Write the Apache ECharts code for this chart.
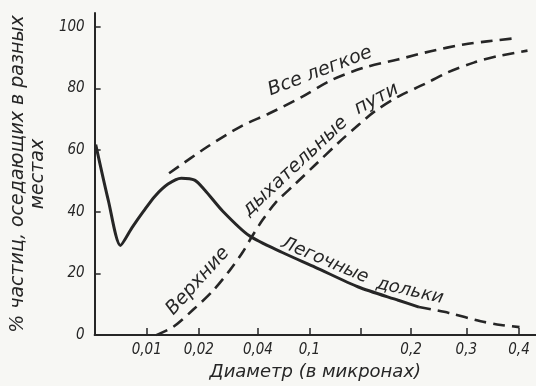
<!DOCTYPE html>
<html>
<head>
<meta charset="utf-8">
<script src="https://cdn.jsdelivr.net/npm/echarts@6/dist/echarts.min.js"></script>
<style>
html,body{margin:0;padding:0;background:#f7f7f4;}
#c{width:536px;height:386px;}
</style>
</head>
<body>
<div id="c"></div>
<script>
// x axis: hand-drawn, uneven diameter scale -> positions of the ticks along the axis
const tickPos    = [0.98, 1.96, 3.07, 4.04, 5.01, 5.95, 6.99, 7.98];
const tickLabels = ['0,01', '0,02', '0,04', '0,1', '', '0,2', '0,3', '0,4'];
const yTicks     = [0, 20, 40, 60, 80, 100];

// [position on x axis, % of particles deposited]
const wholeLung = [[1.40,52.5],[2.12,61.1],[2.77,67.9],[3.27,71.8],[3.89,77.2],[4.45,82.7],
  [5.07,86.8],[5.70,89.4],[6.32,92.1],[6.94,94.3],[7.38,95.3],[7.91,96.3]];
const upperAirways = [[1.16,0],[1.48,2.7],[1.85,8.2],[2.22,14.3],[2.54,21.0],[2.78,26.8],
  [2.97,32.3],[3.16,37.4],[3.40,42.9],[3.77,49.0],[4.14,55.1],[4.59,62.5],[4.97,68.3],
  [5.26,72.5],[5.71,77.4],[6.20,81.4],[6.65,85.3],[7.13,88.4],[7.58,90.5],[8.14,92.3]];
const lobesSolid = [[0.02,61.8],[0.26,43.5],[0.485,29.1],[0.70,34.8],[0.92,40.2],[1.13,45.0],
  [1.38,49.0],[1.63,50.9],[1.88,50.3],[2.07,47.1],[2.41,40.2],[2.91,32.2],[3.53,26.8],
  [4.15,22.0],[4.96,15.6],[5.71,11.3],[6.10,9.1]];
const lobesDashed = [[6.10,9.1],[6.66,7.2],[7.26,4.5],[7.64,3.3],[7.99,2.6]];

// curve annotations: text, anchor in data coords, angle (deg), font size
const notes = [
  ['Все легкое', [4.24, 85.6], 21, 19],
  ['Верхние', [1.94, 17.5], 48, 19],
  ['дыхательные', [3.77, 54.7], 43, 19],
  ['пути', [5.30, 76.6], 28, 19],
  ['Легочные', [4.33, 24.2], -23, 18],
  ['дольки', [5.93, 14.3], -13, 18]
];

const ink = '#262626';
const font = '"DejaVu Sans", "Liberation Sans", sans-serif';
const chart = echarts.init(document.getElementById('c'), null, {renderer: 'canvas'});

const dashStyle = {color: ink, width: 2.6, type: [12, 7]};
chart.setOption({
  backgroundColor: '#f7f7f4',
  animation: false,
  grid: {left: 91, right: 0, top: 13, bottom: 47.5},
  xAxis: {
    type: 'value', min: 0, max: 8.3,
    name: 'Диаметр (в микронах)', nameLocation: 'middle', nameGap: 19,
    nameTextStyle: {color: ink, fontSize: 18, fontStyle: 'italic', fontFamily: font},
    axisLine: {show: true, lineStyle: {color: ink, width: 2}},
    axisTick: {show: true, inside: true, length: 7, customValues: tickPos, lineStyle: {color: ink, width: 1.5}},
    axisLabel: {
      customValues: tickPos, color: ink, fontSize: 15, fontStyle: 'italic',
      fontFamily: '"DejaVu Sans Condensed", "Liberation Sans", sans-serif', margin: 8,
      formatter: v => { const i = tickPos.findIndex(p => Math.abs(p - v) < 1e-6); return i >= 0 ? tickLabels[i] : ''; }
    },
    splitLine: {show: false}
  },
  yAxis: {
    type: 'value', min: 0, max: 104.5, interval: 20,
    name: '% частиц, оседающих в разных\nместах', nameLocation: 'middle', nameRotate: 90, nameGap: 41,
    nameTextStyle: {color: ink, fontSize: 19, fontStyle: 'italic', fontFamily: font, lineHeight: 20},
    axisLine: {show: true, lineStyle: {color: ink, width: 2}},
    axisTick: {show: true, inside: true, length: 6, customValues: yTicks, lineStyle: {color: ink, width: 1.5}},
    axisLabel: {
      customValues: yTicks, color: ink, fontSize: 15, fontStyle: 'italic',
      fontFamily: '"DejaVu Sans Condensed", "Liberation Sans", sans-serif', margin: 10
    },
    splitLine: {show: false}
  },
  series: [
    {type: 'line', name: 'Все легкое', data: wholeLung, symbol: 'none', smooth: 0.3, lineStyle: dashStyle},
    {type: 'line', name: 'Верхние дыхательные пути', data: upperAirways, symbol: 'none', smooth: 0.3, lineStyle: dashStyle},
    {type: 'line', name: 'Легочные дольки', data: lobesSolid, symbol: 'none', smooth: 0.25, lineStyle: {color: ink, width: 3}},
    {type: 'line', name: 'Легочные дольки (экстр.)', data: lobesDashed, symbol: 'none', smooth: 0.3, lineStyle: dashStyle}
  ]
});

const graphics = notes.map(([text, at, ang, size]) => {
  const p = chart.convertToPixel({gridIndex: 0}, at);
  return {
    type: 'text', x: p[0], y: p[1], rotation: ang * Math.PI / 180, silent: true,
    style: {text: text, fill: ink, fontSize: size, fontStyle: 'italic', fontFamily: font, align: 'center', verticalAlign: 'middle'}
  };
});
chart.setOption({graphic: graphics});
</script>
</body>
</html>
